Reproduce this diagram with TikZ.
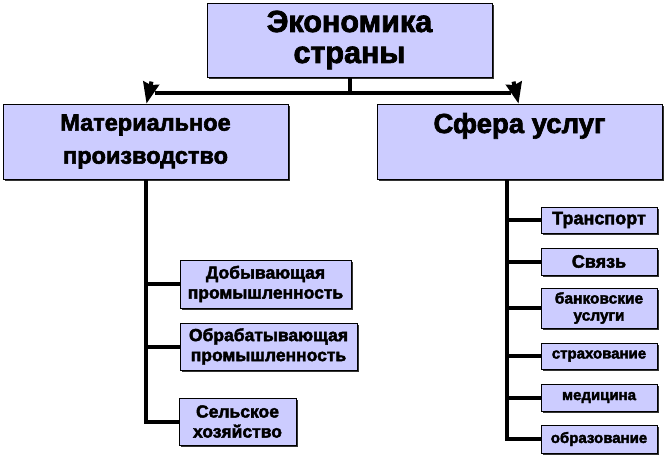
\documentclass[tikz,border=0pt]{standalone}
\usepackage{fontspec}
\setmainfont{Liberation Sans}[BoldFeatures={FakeBold=2.5}]
\usetikzlibrary{positioning, arrows.meta, shadows}
\definecolor{boxfill}{RGB}{204,204,255}

\begin{document}
\begin{tikzpicture}[x=1pt, y=1pt,
    box/.style={draw=black, line width=0.8pt, fill=boxfill, align=center, inner sep=0pt,
      drop shadow={shadow xshift=1.5pt, shadow yshift=-1.5pt, fill=black, opacity=0.8}},
    link/.style={line width=4pt, black},
    tip/.style={-{Stealth[length=21pt, width=16pt, inset=2pt]}}]
    \useasboundingbox (0,0) rectangle (666,-455);

    % Top level
    \node[box, minimum width=285pt, minimum height=74pt, font=\fontsize{30.5}{31}\selectfont\bfseries] (econ) at (349.5,-40) {Экономика\\страны};
    \node[box, minimum width=285pt, minimum height=75pt, font=\fontsize{23.5}{33}\selectfont\bfseries] (mat) at (145.5,-141.5) {Материальное\\производство};
    \node[box, minimum width=285pt, minimum height=75pt, text height=18pt, text depth=35pt, font=\fontsize{27.5}{30}\selectfont\bfseries] (serv) at (519.5,-141.5) {Сфера услуг};

    % Branches of the top box
    \coordinate (hub) at (econ.south |- 0,-93);
    \coordinate (matbend) at ([xshift=6pt, yshift=22pt]mat.north);
    \coordinate (servbend) at ([xshift=-6pt, yshift=22pt]serv.north);
    \draw[link] (econ.south) -- (hub);
    \draw[link] ([xshift=9pt]mat.north |- hub) -- ([xshift=-9pt]serv.north |- hub);
    \draw[link, tip] (matbend) -- ([xshift=1pt]mat.north);
    \draw[link, tip] (servbend) -- ([xshift=-1pt]serv.north);

    % Material production
    \node[box, minimum width=171pt, minimum height=48pt, font=\fontsize{17.5}{20}\selectfont\bfseries] (dob) at (265.5,-284) {Добывающая\\промышленность};
    \node[box, minimum width=177pt, minimum height=47pt, font=\fontsize{17.5}{20}\selectfont\bfseries] (obr) at (268.5,-346.5) {Обрабатывающая\\промышленность};
    \node[box, minimum width=117pt, minimum height=47pt, font=\fontsize{17.5}{20}\selectfont\bfseries] (sel) at (237.5,-421.5) {Сельское\\хозяйство};
    \foreach \leaf in {dob, obr, sel}
      \draw[link] (mat.south) |- (\leaf.west);

    % Services
    \foreach \name/\ypos/\hgt/\fsize/\txt in {trans/220/26/18/Транспорт, svyaz/261.5/27/18/Связь,
        bank/308/40/15.5/{банковские\\услуги}, strakh/356/26/15/страхование,
        med/397.5/27/15/медицина, obraz/439/28/15/образование} {
      \node[box, minimum width=116pt, minimum height=\hgt pt, font=\fontsize{\fsize}{17}\selectfont\bfseries] (\name) at (599,-\ypos) {\txt};
    }
    \coordinate (trunk) at ([xshift=-12.5pt]serv.south);
    \foreach \leaf in {trans, svyaz, bank, strakh, med, obraz}
      \draw[link] (trunk) |- (\leaf.west);
\end{tikzpicture}
\end{document}
